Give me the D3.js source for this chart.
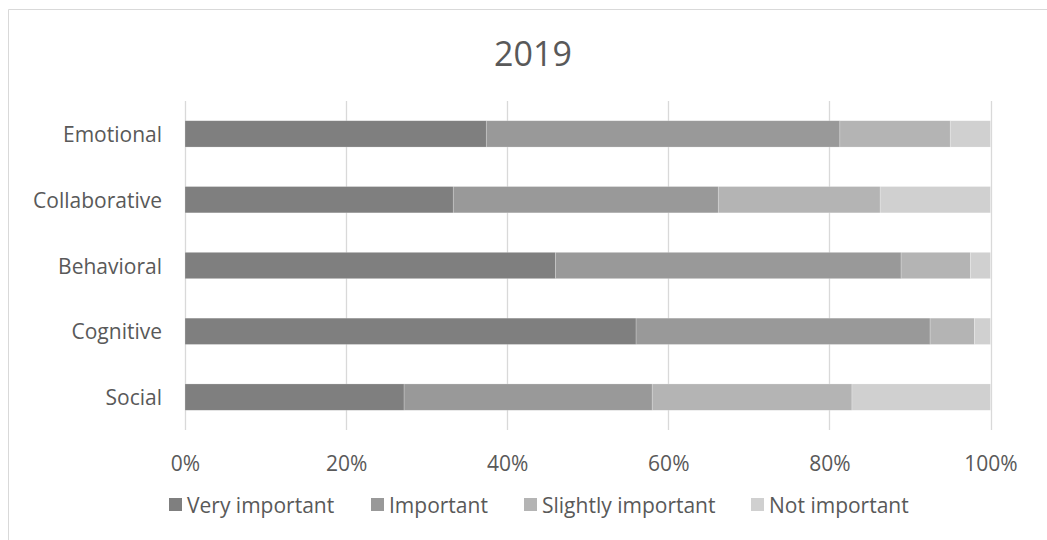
<!DOCTYPE html>
<html>
<head>
<meta charset="utf-8">
<script src="https://cdn.jsdelivr.net/npm/d3@7"></script>
<style>
  html, body { margin: 0; padding: 0; background: #ffffff; }
  svg { display: block; }
  text { font-family: "Open Sans", sans-serif; fill: #595959; }
</style>
</head>
<body>
<svg id="chart" width="1047" height="540"></svg>
<script>
const title = "2019";
const categories = ["Emotional", "Collaborative", "Behavioral", "Cognitive", "Social"];
const seriesNames = ["Very important", "Important", "Slightly important", "Not important"];
const veryImportant = [37.4, 33.3, 46.0, 56.0, 27.2];
const important = [43.9, 32.9, 42.9, 36.5, 30.8];
const slightlyImportant = [13.7, 20.1, 8.6, 5.5, 24.8];
const notImportant = [5.0, 13.7, 2.5, 2.0, 17.2];
const tickValues = [0, 20, 40, 60, 80, 100];
const tickLabels = ["0%", "20%", "40%", "60%", "80%", "100%"];
const colors = ["#7f7f7f", "#999999", "#b4b4b4", "#d0d0d0"];

const svg = d3.select("#chart");

// chart border (left and top edges visible)
svg.append("path")
  .attr("d", "M8.5,540 L8.5,9.5 L1047,9.5")
  .attr("fill", "none")
  .attr("stroke", "#d9d9d9")
  .attr("stroke-width", 1);

const x = d3.scaleLinear().domain([0, 100]).range([185, 990.5]);
const y = d3.scaleBand().domain(categories).range([101, 430]).paddingInner(0.6).paddingOuter(0.3);

// title
svg.append("text")
  .attr("x", 533).attr("y", 53)
  .attr("text-anchor", "middle")
  .attr("dominant-baseline", "central")
  .style("font-size", "34px")
  .text(title);

// gridlines
svg.append("g").selectAll("line")
  .data(tickValues)
  .join("line")
  .attr("x1", d => Math.round(x(d)) + 0.5)
  .attr("x2", d => Math.round(x(d)) + 0.5)
  .attr("y1", 101).attr("y2", 430)
  .attr("stroke", "#d9d9d9")
  .attr("stroke-width", 1.3);

// x axis labels
const xAxis = d3.axisBottom(x).tickValues(tickValues).tickFormat((d, i) => tickLabels[i]).tickSize(0).tickPadding(0);
const gx = svg.append("g").attr("transform", "translate(0,463)").call(xAxis);
gx.select(".domain").remove();
gx.selectAll("text")
  .attr("y", 0).attr("dy", null)
  .attr("dominant-baseline", "central")
  .style("font-size", "21px")
  .style("font-family", "'Open Sans', sans-serif")
  .attr("fill", "#595959");

// y axis labels
const yAxis = d3.axisLeft(y).tickSize(0).tickPadding(0);
const gy = svg.append("g").attr("transform", "translate(162,0)").call(yAxis);
gy.select(".domain").remove();
gy.selectAll("text")
  .attr("x", 0).attr("dy", null)
  .attr("dominant-baseline", "central")
  .style("font-size", "21px")
  .style("font-family", "'Open Sans', sans-serif")
  .attr("fill", "#595959");

// stacked data
const rows = categories.map((c, i) => ({
  cat: c,
  "Very important": veryImportant[i],
  "Important": important[i],
  "Slightly important": slightlyImportant[i],
  "Not important": notImportant[i]
}));
const stacked = d3.stack().keys(seriesNames)(rows);

svg.append("g").selectAll("g")
  .data(stacked)
  .join("g")
  .attr("fill", (d, i) => colors[i])
  .selectAll("rect")
  .data(d => d)
  .join("rect")
  .attr("x", d => x(d[0]))
  .attr("width", d => x(d[1]) - x(d[0]))
  .attr("y", d => y(d.data.cat))
  .attr("height", y.bandwidth())
  .attr("stroke", "#ffffff")
  .attr("stroke-width", 0.6)
  .attr("stroke-opacity", 0.35);

// legend
const legendX = [169, 371, 524, 751];
const legend = svg.append("g");
seriesNames.forEach((name, i) => {
  legend.append("rect")
    .attr("x", legendX[i]).attr("y", 498)
    .attr("width", 13).attr("height", 13)
    .attr("fill", colors[i]);
  legend.append("text")
    .attr("x", legendX[i] + 18).attr("y", 505)
    .attr("dominant-baseline", "central")
    .style("font-size", "21px")
    .text(name);
});
</script>
</body>
</html>
